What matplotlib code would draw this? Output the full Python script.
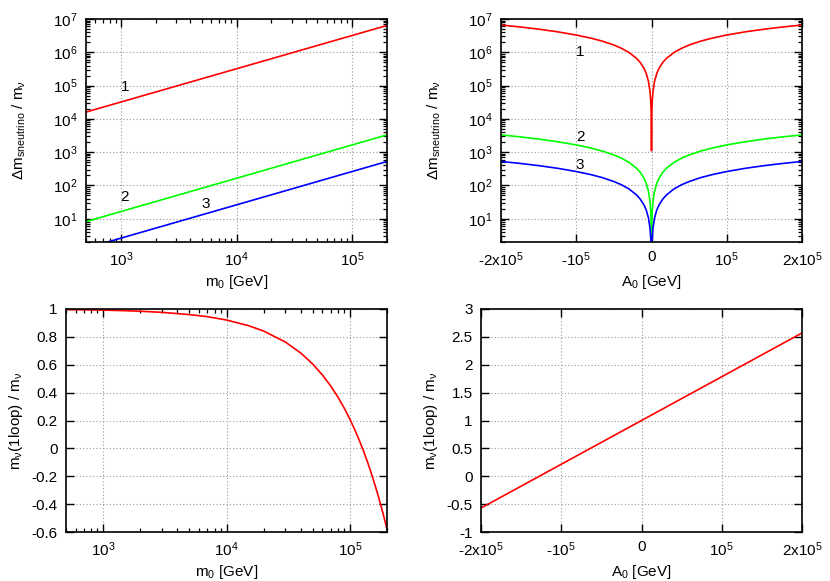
import numpy as np
import matplotlib
matplotlib.use("Agg")
import matplotlib.pyplot as plt
from matplotlib.ticker import LogLocator, FixedLocator, NullFormatter

plt.rcParams['font.family'] = ['Liberation Sans', 'DejaVu Sans']
plt.rcParams['mathtext.fontset'] = 'custom'
plt.rcParams['mathtext.rm'] = 'Liberation Sans'
plt.rcParams['mathtext.it'] = 'Liberation Sans:italic'
plt.rcParams['mathtext.default'] = 'regular'

# ---- data ----
# top-left: Δm_sneutrino / m_ν vs m0 (straight lines in log-log)
m0_tl = [500, 2e5]
tl_curve1 = [1.6e4, 6.4e6]
tl_curve2 = [8.2, 3.3e3]
tl_curve3 = [1.3, 525]

# top-right: Δm_sneutrino / m_ν vs A0 (symmetric about 0; one side given)
a0_abs = [0, 100, 300, 500, 1e3, 2e3, 4e3, 7e3, 1e4, 1.5e4, 2e4, 3e4, 4e4, 5e4,
          6.5e4, 8e4, 1e5, 1.25e5, 1.5e5, 1.75e5, 2e5]
tr_curve1 = [1.1e3, 4.4e3, 1.1e4, 1.76e4, 3.4e4, 6.7e4, 1.33e5, 2.32e5, 3.3e5, 4.96e5,
             6.6e5, 9.9e5, 1.32e6, 1.65e6, 2.15e6, 2.64e6, 3.3e6, 4.13e6, 4.95e6, 5.78e6, 6.6e6]
tr_curve2 = [0.05, 1.65, 4.95, 8.25, 16.5, 33, 66, 115, 165, 248,
             330, 495, 660, 825, 1070, 1320, 1650, 2060, 2480, 2890, 3300]
tr_curve3 = [0.01, 0.26, 0.79, 1.3, 2.6, 5.2, 10.5, 18.3, 26, 39,
             52, 79, 105, 131, 171, 210, 262, 328, 394, 460, 525]

# bottom-left: m_ν(1loop) / m_ν vs m0
m0_bl = [500, 700, 1e3, 1.5e3, 2e3, 3e3, 5e3, 7e3, 1e4, 1.5e4, 2e4, 3e4, 4e4, 5e4,
         6e4, 7e4, 8e4, 9e4, 1e5, 1.1e5, 1.2e5, 1.3e5, 1.4e5, 1.5e5, 1.6e5, 1.7e5,
         1.8e5, 1.9e5, 2e5]
bl_ratio = [0.996, 0.994, 0.992, 0.988, 0.984, 0.976, 0.960, 0.945, 0.921, 0.881,
            0.842, 0.763, 0.684, 0.605, 0.526, 0.447, 0.368, 0.289, 0.210, 0.131,
            0.052, -0.027, -0.106, -0.185, -0.264, -0.343, -0.422, -0.501, -0.58]

# bottom-right: m_ν(1loop) / m_ν vs A0
a0_br = [-2e5, 0, 2e5]
br_ratio = [-0.57, 1.0, 2.57]

# labels
ylab_top = r'$\Delta$m$_{\mathregular{sneutrino}}$ / m$_{\mathregular{\nu}}$'
ylab_bot = r'm$_{\mathregular{\nu}}$(1loop) / m$_{\mathregular{\nu}}$'
xlab_m0 = r'm$_{0}$ [GeV]'
xlab_a0 = r'A$_{0}$ [GeV]'
a0_ticks = [-2e5, -1e5, 0, 1e5, 2e5]
a0_ticklabels = [r'-2x10$^{5}$', r'-10$^{5}$', '0', r'10$^{5}$', r'2x10$^{5}$']
bl_yticks = [-0.6, -0.4, -0.2, 0, 0.2, 0.4, 0.6, 0.8, 1.0]
bl_yticklabels = ['-0.6', '-0.4', '-0.2', '0', '0.2', '0.4', '0.6', '0.8', '1']
br_yticks = [-1, -0.5, 0, 0.5, 1, 1.5, 2, 2.5, 3]
br_yticklabels = ['-1', '-0.5', '0', '0.5', '1', '1.5', '2', '2.5', '3']

RED, GREEN, BLUE = '#ff0000', '#00ff00', '#0000ff'

W, H = 830, 581
fig = plt.figure(figsize=(W / 100, H / 100), dpi=100)


def add_ax(l, r, t, b):
    return fig.add_axes([l / W, (H - b) / H, (r - l) / W, (b - t) / H])


def style(ax):
    for s in ax.spines.values():
        s.set_linewidth(1.2)
    ax.tick_params(which='both', direction='in', top=True, right=True, labelsize=11)
    ax.tick_params(which='major', length=6, width=1.0, pad=6)
    ax.tick_params(which='minor', length=3, width=0.9)
    ax.grid(True, which='major', color='#999999', linestyle=(0, (1, 2)), linewidth=0.8)
    ax.set_axisbelow(True)


LW = 1.2
ax1 = add_ax(86, 387, 19, 242)
ax2 = add_ax(501, 802, 19, 242)
ax3 = add_ax(66, 387, 309, 532)
ax4 = add_ax(481, 802, 309, 532)

# top-left
ax1.plot(m0_tl, tl_curve1, color=RED, lw=LW)
ax1.plot(m0_tl, tl_curve2, color=GREEN, lw=LW)
ax1.plot(m0_tl, tl_curve3, color=BLUE, lw=LW)
ax1.set_xscale('log')
ax1.set_yscale('log')
ax1.set_xlim(500, 2e5)
ax1.set_ylim(2, 1e7)
ax1.text(1.08e3, 9e4, '1', fontsize=11, ha='center', va='center')
ax1.text(1.08e3, 45, '2', fontsize=11, ha='center', va='center')
ax1.text(5.4e3, 28, '3', fontsize=11, ha='center', va='center')

# top-right
a0_full = [-v for v in a0_abs[::-1]] + a0_abs[1:]
for vals, c in ((tr_curve1, RED), (tr_curve2, GREEN), (tr_curve3, BLUE)):
    full = vals[::-1] + vals[1:]
    ax2.plot(a0_full, full, color=c, lw=LW)
ax2.set_yscale('log')
ax2.set_xlim(-2e5, 2e5)
ax2.set_ylim(2, 1e7)
ax2.text(-0.95e5, 1.0e6, '1', fontsize=11, ha='center', va='center')
ax2.text(-0.95e5, 2.8e3, '2', fontsize=11, ha='center', va='center')
ax2.text(-0.95e5, 4.2e2, '3', fontsize=11, ha='center', va='center')

# bottom-left
ax3.plot(m0_bl, bl_ratio, color=RED, lw=LW)
ax3.set_xscale('log')
ax3.set_xlim(500, 2e5)
ax3.set_ylim(-0.6, 1.0)
ax3.set_yticks(bl_yticks)
ax3.set_yticklabels(bl_yticklabels)

# bottom-right
ax4.plot(a0_br, br_ratio, color=RED, lw=LW)
ax4.set_xlim(-2e5, 2e5)
ax4.set_ylim(-1, 3)
ax4.set_yticks(br_yticks)
ax4.set_yticklabels(br_yticklabels)

for ax in (ax1, ax3):
    ax.xaxis.set_major_locator(FixedLocator([1e3, 1e4, 1e5]))
    ax.xaxis.set_minor_locator(LogLocator(base=10, subs=np.arange(2, 10)))
    ax.xaxis.set_minor_formatter(NullFormatter())
    ax.set_xlabel(xlab_m0, fontsize=11, labelpad=3)

for ax in (ax1, ax2):
    ax.yaxis.set_major_locator(FixedLocator([1e1, 1e2, 1e3, 1e4, 1e5, 1e6, 1e7]))
    ax.yaxis.set_minor_locator(LogLocator(base=10, subs=np.arange(2, 10)))
    ax.yaxis.set_minor_formatter(NullFormatter())
    ax.set_ylabel(ylab_top, fontsize=11, labelpad=18)

for ax in (ax2, ax4):
    ax.set_xticks(a0_ticks)
    ax.set_xticklabels(a0_ticklabels)
    ax.set_xlabel(xlab_a0, fontsize=11, labelpad=3)

for ax in (ax3, ax4):
    ax.set_ylabel(ylab_bot, fontsize=11, labelpad=5)

for ax in (ax1, ax2, ax3, ax4):
    style(ax)

fig.savefig('out.png', dpi=100)
